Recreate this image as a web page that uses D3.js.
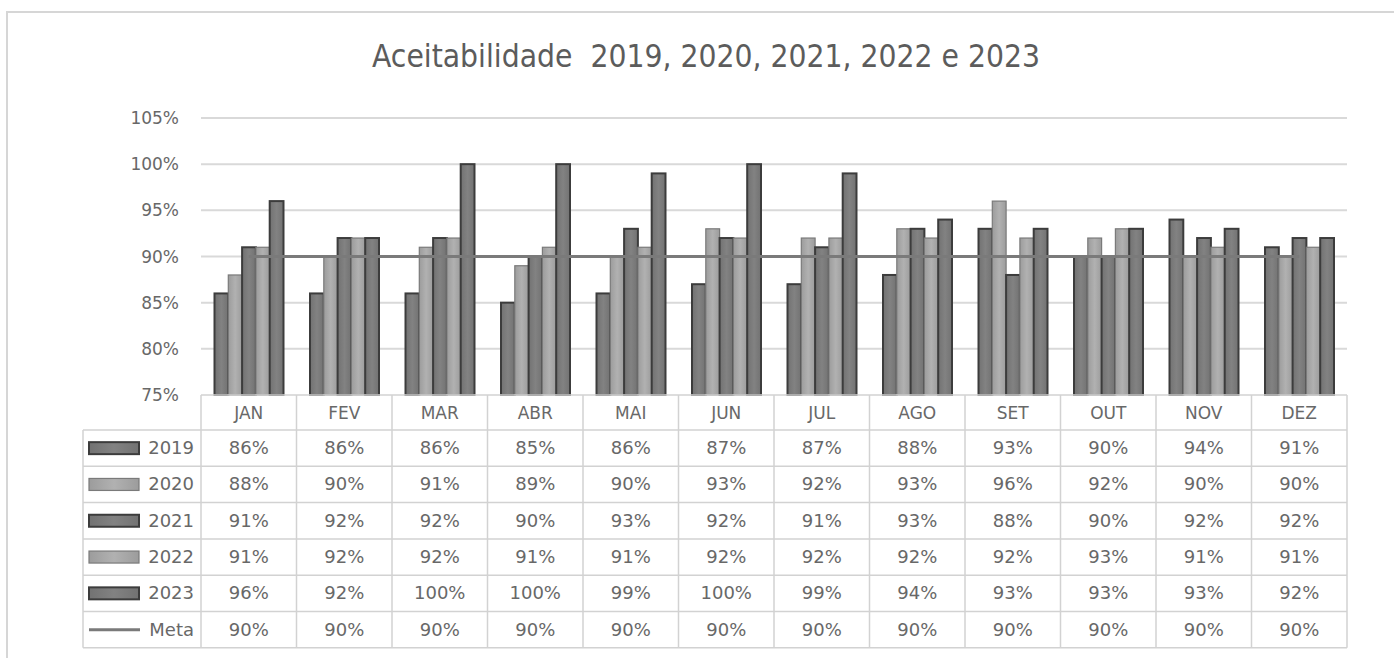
<!DOCTYPE html>
<html>
<head>
<meta charset="utf-8">
<script src="https://cdnjs.cloudflare.com/ajax/libs/d3/7.8.5/d3.min.js"></script>
<style>
  body { margin: 0; background: #fff; }
  text { font-family: "DejaVu Sans", sans-serif; fill: #686868; }
</style>
</head>
<body>
<div id="chart"></div>
<script>
const months = ["JAN", "FEV", "MAR", "ABR", "MAI", "JUN", "JUL", "AGO", "SET", "OUT", "NOV", "DEZ"];
const years = ["2019", "2020", "2021", "2022", "2023"];
const v2019 = [86, 86, 86, 85, 86, 87, 87, 88, 93, 90, 94, 91];
const v2020 = [88, 90, 91, 89, 90, 93, 92, 93, 96, 92, 90, 90];
const v2021 = [91, 92, 92, 90, 93, 92, 91, 93, 88, 90, 92, 92];
const v2022 = [91, 92, 92, 91, 91, 92, 92, 92, 92, 93, 91, 91];
const v2023 = [96, 92, 100, 100, 99, 100, 99, 94, 93, 93, 93, 92];
const meta = [90, 90, 90, 90, 90, 90, 90, 90, 90, 90, 90, 90];
const yTicks = [75, 80, 85, 90, 95, 100, 105];
const title = "Aceitabilidade  2019, 2020, 2021, 2022 e 2023";

const series = [v2019, v2020, v2021, v2022, v2023];
const dark = { fill: "#7d7d7d", stroke: "#3c3c3c", sw: 2 };
const light = { fill: "#ababab", stroke: "#7a7a7a", sw: 1.2 };
const styles = [dark, light, dark, light, dark];

const W = 1394, H = 658;
const svg = d3.select("#chart").append("svg")
    .attr("width", W).attr("height", H);

// gradients for bars
const defs = svg.append("defs");
styles.forEach(function (s, i) {
    const g = defs.append("linearGradient").attr("id", "grad" + i)
        .attr("x1", "0").attr("x2", "1").attr("y1", "0").attr("y2", "0");
    const c = d3.color(s.fill);
    g.append("stop").attr("offset", "0%").attr("stop-color", c.darker(0.25));
    g.append("stop").attr("offset", "50%").attr("stop-color", c.brighter(0.1));
    g.append("stop").attr("offset", "100%").attr("stop-color", c.darker(0.25));
});

// chart border
svg.append("rect")
    .attr("x", 7).attr("y", 12).attr("width", W).attr("height", H)
    .attr("fill", "none").attr("stroke", "#d6d6d6").attr("stroke-width", 2);

svg.append("text")
    .attr("x", 706).attr("y", 67)
    .attr("text-anchor", "middle")
    .attr("textLength", 668).attr("lengthAdjust", "spacingAndGlyphs")
    .style("white-space", "pre")
    .style("font-family", "'Liberation Sans Narrow', 'DejaVu Sans Condensed', 'Liberation Sans', sans-serif")
    .style("font-stretch", "condensed")
    .style("font-size", "32px")
    .style("fill", "#5c5c5c")
    .text(title);

const left = 201, right = 1347;
const x = d3.scaleBand().domain(months).range([left, right]);
const xs = d3.scaleBand().domain(years).range([13.5, x.bandwidth() - 13]);
const y = d3.scaleLinear().domain([75, 105]).range([395, 118]);

// gridlines
svg.append("g").selectAll("line")
    .data(yTicks.slice(1))
    .enter().append("line")
    .attr("x1", left).attr("x2", right)
    .attr("y1", d => y(d)).attr("y2", d => y(d))
    .attr("stroke", "#d9d9d9").attr("stroke-width", 2);

// y labels
svg.append("g").selectAll("text")
    .data(yTicks)
    .enter().append("text")
    .attr("x", 179).attr("y", d => y(d) + 6)
    .attr("text-anchor", "end")
    .style("font-size", "17px")
    .text(d => d + "%");

// bars
series.forEach(function (vals, si) {
    svg.append("g").selectAll("rect")
        .data(vals)
        .enter().append("rect")
        .attr("x", (d, i) => x(months[i]) + xs(years[si]))
        .attr("width", xs.bandwidth())
        .attr("y", d => y(d))
        .attr("height", d => y(75) - y(d))
        .attr("fill", "url(#grad" + si + ")")
        .attr("stroke", styles[si].stroke)
        .attr("stroke-width", styles[si].sw);
});

// meta line
const line = d3.line()
    .x((d, i) => x(months[i]) + x.bandwidth() / 2)
    .y(d => y(d));
svg.append("path")
    .datum(meta)
    .attr("d", line)
    .attr("fill", "none")
    .attr("stroke", "#7a7a7a")
    .attr("stroke-width", 3);

// data table
const rowTop = 395, headH = 35, rowH = 36.3;
const legLeft = 83;
const rows = years.concat(["Meta"]);
const allVals = series.concat([meta]);
const tableBottom = rowTop + headH + rowH * rows.length;
const gridCol = "#d2d2d2";
const tbl = svg.append("g");

// horizontal lines
tbl.append("line").attr("x1", left).attr("x2", right)
    .attr("y1", rowTop).attr("y2", rowTop)
    .attr("stroke", gridCol).attr("stroke-width", 1.5);
d3.range(rows.length + 1).forEach(function (r) {
    const yy = rowTop + headH + r * rowH;
    tbl.append("line").attr("x1", legLeft).attr("x2", right)
        .attr("y1", yy).attr("y2", yy)
        .attr("stroke", gridCol).attr("stroke-width", 1.5);
});
// vertical lines
tbl.append("line").attr("x1", legLeft).attr("x2", legLeft)
    .attr("y1", rowTop + headH).attr("y2", tableBottom)
    .attr("stroke", gridCol).attr("stroke-width", 1.5);
months.concat(["end"]).forEach(function (m, i) {
    const xx = left + i * x.bandwidth();
    tbl.append("line").attr("x1", xx).attr("x2", xx)
        .attr("y1", rowTop).attr("y2", tableBottom)
        .attr("stroke", gridCol).attr("stroke-width", 1.5);
});

// header
tbl.append("g").selectAll("text")
    .data(months)
    .enter().append("text")
    .attr("x", d => x(d) + x.bandwidth() / 2)
    .attr("y", rowTop + headH / 2 + 6)
    .attr("text-anchor", "middle")
    .style("font-size", "17px")
    .text(d => d);

// rows
rows.forEach(function (name, r) {
    const cy = rowTop + headH + r * rowH + rowH / 2;
    if (r < years.length) {
        tbl.append("rect")
            .attr("x", 89).attr("y", cy - 6)
            .attr("width", 50).attr("height", 12)
            .attr("fill", "url(#grad" + r + ")")
            .attr("stroke", styles[r].stroke)
            .attr("stroke-width", styles[r].sw);
    } else {
        tbl.append("line")
            .attr("x1", 89).attr("x2", 140)
            .attr("y1", cy).attr("y2", cy)
            .attr("stroke", "#7a7a7a").attr("stroke-width", 3);
    }
    tbl.append("text")
        .attr("x", 194).attr("y", cy + 6)
        .attr("text-anchor", "end")
        .style("font-size", "18px")
        .text(name);
    tbl.append("g").selectAll("text")
        .data(allVals[r])
        .enter().append("text")
        .attr("x", (d, i) => x(months[i]) + x.bandwidth() / 2)
        .attr("y", cy + 6)
        .attr("text-anchor", "middle")
        .style("font-size", "18px")
        .text(d => d + "%");
});
</script>
</body>
</html>
